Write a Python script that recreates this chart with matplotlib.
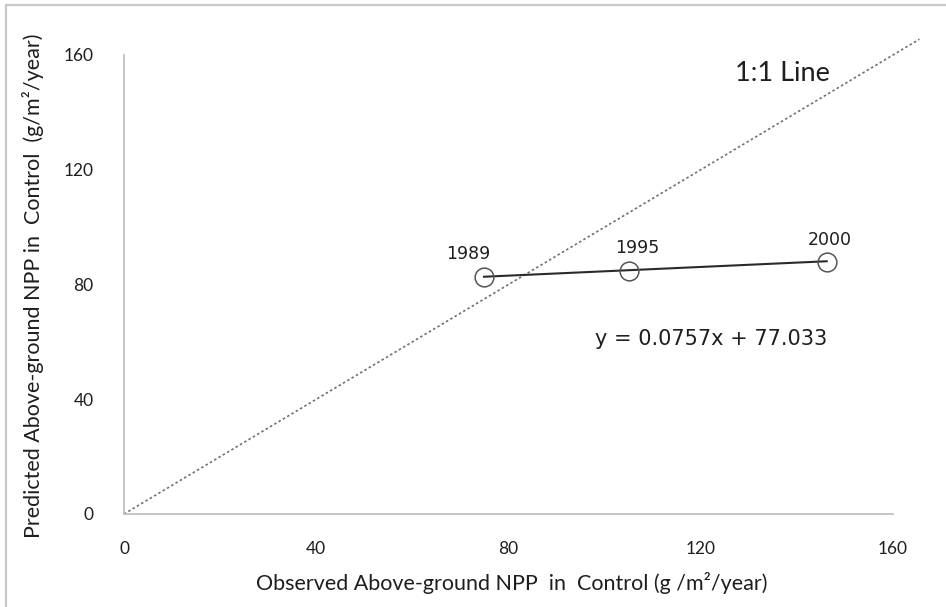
import matplotlib
matplotlib.use("Agg")
import matplotlib.pyplot as plt
from matplotlib.patches import Rectangle

# Observed vs. predicted above-ground NPP in the control plots
years = ["1989", "1995", "2000"]
observed = [74.9, 105.1, 146.2]
predicted = [82.6, 84.6, 87.7]

# Linear trend reported for the series
slope = 0.0757
intercept = 77.033

ticks = [0, 40, 80, 120, 160]
one_to_one_end = 165.5

label_font = ["Lato", "DejaVu Sans"]
grey_axis = "#c0c0c0"
text_col = "#1e1e1e"

fig = plt.figure(figsize=(9.46, 6.07), dpi=100)
ax = fig.add_axes([124 / 946, 1 - 514 / 607, (893 - 124) / 946, (514 - 55) / 607])

# outer frame (top and left edges visible)
fig.patches.append(Rectangle((6 / 946, -0.05), 1.1, 1 - 5 / 607 + 0.05,
                             transform=fig.transFigure, fill=False,
                             edgecolor="#c8c8c8", linewidth=1.6))

ax.set_xlim(0, 160)
ax.set_ylim(0, 160)
for side in ("top", "right"):
    ax.spines[side].set_visible(False)
for side in ("left", "bottom"):
    ax.spines[side].set_color(grey_axis)
    ax.spines[side].set_linewidth(1.3)

ax.set_xticks(ticks)
ax.set_yticks(ticks)
ax.tick_params(length=0)
ax.tick_params(axis="x", pad=19.5)
ax.tick_params(axis="y", pad=22)
for lab in ax.get_xticklabels() + ax.get_yticklabels():
    lab.set_fontfamily(label_font)
    lab.set_fontsize(12.5)
    lab.set_color(text_col)

# 1:1 reference line
ax.plot([0, one_to_one_end], [0, one_to_one_end], linestyle=(0, (1.5, 1.5)),
        color="#707070", linewidth=1.2, clip_on=False)
ax.text(136.9, 153.7, "1:1 Line", fontsize=19.5, family=label_font,
        color=text_col, ha="center", va="center")

# trend line across the observed range
x0, x1 = min(observed), max(observed)
ax.plot([x0, x1], [slope * x0 + intercept, slope * x1 + intercept],
        color="#2a2a2a", linewidth=1.5)

ax.plot(observed, predicted, linestyle="none", marker="o", markersize=13.5,
        markerfacecolor="none", markeredgecolor="#555555", markeredgewidth=1.1)

offsets = [(-16, 23), (8, 23), (3, 22)]
for yr, xv, yv, off in zip(years, observed, predicted, offsets):
    ax.annotate(yr, (xv, yv), xytext=off, textcoords="offset pixels",
                ha="center", va="center", fontsize=12.5, color=text_col)

ax.text(122.1, 61.0, f"y = {slope}x + {intercept}", fontsize=15,
        color=text_col, ha="center", va="center")

ax.set_xlabel("Observed Above-ground NPP  in  Control (g /m²/year)",
              fontsize=15.5, family=label_font, color=text_col)
ax.set_ylabel("Predicted Above-ground NPP in  Control  (g/m²/year)",
              fontsize=15.5, family=label_font, color=text_col)
ax.xaxis.set_label_coords((512 - 124) / 769, (514 - 583) / 459)
ax.yaxis.set_label_coords((33 - 124) / 769, (514 - 286) / 459)
ax.xaxis.label.set_va("center")
ax.yaxis.label.set_va("center")

fig.savefig("out.png", dpi=100)
